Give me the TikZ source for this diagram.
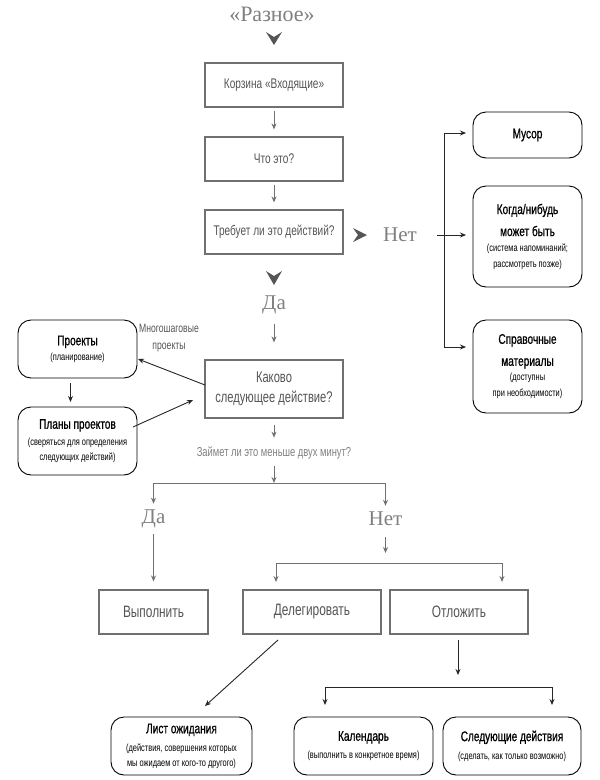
\documentclass[tikz,border=0pt]{standalone}
\usepackage{fontspec}
\setmainfont{Liberation Serif}
\newfontfamily\nar[FakeStretch=0.72]{Liberation Sans}
\newfontfamily\narb[FakeStretch=0.72,FakeBold=0.8]{Liberation Sans}
\usetikzlibrary{arrows.meta,calc}
\definecolor{boxgray}{HTML}{707070}
\definecolor{txtgray}{HTML}{555555}
\definecolor{sergray}{HTML}{808080}
\definecolor{chevgray}{HTML}{555555}
\tikzset{
  rbox/.style={draw=boxgray, line width=1.2pt, rectangle, inner sep=2pt, align=center,
    text=txtgray, font=\nar\fontsize{14}{16}\selectfont},
  obox/.style={draw=black, line width=0.9pt, rounded corners=13pt, inner sep=2pt, align=center, text=black,
    font=\nar\fontsize{10.3}{15}\selectfont},
  lbl/.style={text=sergray, font=\fontsize{21}{23}\selectfont, inner sep=1pt},
  garr/.style={draw=boxgray, line width=1pt, -{Stealth[length=6pt,width=5pt]}},
  gline/.style={draw=boxgray, line width=1pt},
  barr/.style={draw=black!85, line width=0.9pt, -{Stealth[length=6pt,width=5pt]}},
  bline/.style={draw=black!85, line width=0.9pt},
  chev/.style={fill=chevgray, draw=none},
}
\newcommand{\ttl}[1]{{\narb\fontsize{14}{16}\selectfont #1}}
\newcommand{\sbt}[1]{{\nar\fontsize{10.3}{12.3}\selectfont #1}}
\begin{document}
\begin{tikzpicture}[x=1pt,y=-1pt]
\useasboundingbox[fill=white] (0,0) rectangle (600,780);

% labels
\node[lbl, font=\fontsize{22}{24}\selectfont] (raz) at (272,14) {«Разное»};
\node[lbl] (net1) at (400,235) {Нет};
\node[lbl] (da1) at (274,305) {Да};
\node[lbl] (da2) at (153.5,519) {Да};
\node[lbl] (net2) at (385.5,519) {Нет};

% chevrons
\fill[chev] (266,32) -- (274,37) -- (282,32) -- (274,45) -- cycle;
\fill[chev] (353,228) -- (358,235) -- (353,242) -- (367,235) -- cycle;
\fill[chev] (266,271) -- (274,276) -- (282,271) -- (274,285) -- cycle;

% main boxes
\node[rbox, minimum width=138, minimum height=44] (inbox) at (274,85) {Корзина «Входящие»};
\node[rbox, minimum width=138, minimum height=44] (what) at (274,159) {Что это?};
\node[rbox, minimum width=138, minimum height=44] (act) at (274,232) {Требует ли это действий?};
\node[rbox, minimum width=138, minimum height=58, font=\nar\fontsize{15.5}{20}\selectfont] (next) at (274,389) {Каково\\следующее действие?};
\node[text=sergray, font=\nar\fontsize{13}{15}\selectfont, inner sep=1pt] (two) at (274,453) {Займет ли это меньше двух минут?};
\node[rbox, minimum width=109, minimum height=44, font=\nar\fontsize{16.5}{19}\selectfont] (doit) at (153.5,612) {Выполнить};
\node[rbox, minimum width=138, minimum height=44, font=\nar\fontsize{16.5}{19}\selectfont] (deleg) at (312,612) {Делегировать};
\node[rbox, minimum width=138, minimum height=44, font=\nar\fontsize{16.5}{19}\selectfont] (defer) at (459,612) {Отложить};

% rounded boxes right
\node[obox, minimum width=109, minimum height=46] (trash) at (527.5,135) {\ttl{Мусор}};
\node[obox, minimum width=109, minimum height=101] (some) at (527.5,236.5) {\ttl{Когда/нибудь}\\[7pt]\ttl{может быть}\\\sbt{(система напоминаний;}\\[1pt]\sbt{рассмотреть позже)}};
\node[obox, minimum width=109, minimum height=93] (refer) at (527.5,366.5) {\ttl{Справочные}\\[7pt]\ttl{материалы}\\\sbt{(доступны}\\[1pt]\sbt{при необходимости)}};

% rounded boxes left
\node[obox, minimum width=119, minimum height=58] (proj) at (77.5,349) {\ttl{Проекты}\\\sbt{(планирование)}};
\node[obox, minimum width=119, minimum height=68] (plans) at (77.5,441) {\ttl{Планы проектов}\\[2pt]\sbt{(сверяться для определения}\\\sbt{следующих действий)}};
\node[text=txtgray, font=\nar\fontsize{12}{17}\selectfont, align=center, inner sep=1pt] (multi) at (169,338) {Многошаговые\\проекты};

% rounded boxes bottom
\node[obox, minimum width=141, minimum height=58] (wait) at (181.5,746) {\ttl{Лист ожидания}\\[3pt]\sbt{(действия, совершения которых}\\\sbt{мы ожидаем от кого-то другого)}};
\node[obox, minimum width=139, minimum height=58] (cal) at (363.5,746) {\ttl{Календарь}\\[3pt]\sbt{(выполнить в конкретное время)}};
\node[obox, minimum width=138, minimum height=58] (nexta) at (512,746) {\ttl{Следующие действия}\\[3pt]\sbt{(сделать, как только возможно)}};

% main flow arrows
\draw[garr, shorten <=3pt, shorten >=7pt] (inbox) -- (what);
\draw[garr, shorten <=3pt, shorten >=7pt] (what) -- (act);
\draw[garr, shorten <=9pt, shorten >=17pt] (da1) -- (next);
\draw[garr, shorten <=6pt, shorten >=8pt] (next) -- (two);

% fork 1
\coordinate (f1) at (274,483);
\coordinate (f1l) at (153.5,483);
\coordinate (f1r) at (385.5,483);
\draw[garr, shorten <=6pt] (two) -- (f1);
\draw[gline] (f1l) -- (f1r);
\draw[garr, shorten >=5pt] (f1l) -- (da2);
\draw[garr, shorten >=5pt] (f1r) -- (net2);
\draw[garr, shorten <=5pt, shorten >=8pt] (da2) -- (doit);

% fork 2
\coordinate (f2) at (385.5,563);
\coordinate (f2l) at (276,563);
\coordinate (f2r) at (502,563);
\coordinate (f2lt) at (276,582);
\coordinate (f2rt) at (502,582);
\draw[garr, shorten <=10pt, shorten >=10pt] (net2) -- (f2);
\draw[gline] (f2l) -- (f2r);
\draw[garr] (f2l) -- (f2lt);
\draw[garr] (f2r) -- (f2rt);

% delegate -> waiting
\coordinate (dstart) at (278,640);
\coordinate (dend) at (205,706);
\draw[barr] (dstart) -- (dend);

% defer -> fork 3
\coordinate (f3) at (458,675);
\coordinate (f3s) at (458,640);
\coordinate (f3l) at (325,687);
\coordinate (f3r) at (552,687);
\coordinate (f3lt) at (325,705);
\coordinate (f3rt) at (552,705);
\draw[barr] (f3s) -- (f3);
\draw[bline] (f3l) -- (f3r);
\draw[barr] (f3l) -- (f3lt);
\draw[barr] (f3r) -- (f3rt);

% right bracket
\coordinate (bt) at (444,133);
\coordinate (bb) at (444,347);
\coordinate (bm) at (437,235);
\coordinate (btt) at (466,133);
\coordinate (bmt) at (466,235);
\coordinate (bbt) at (466,347);
\draw[bline] (bt) -- (bb);
\draw[barr] (bt) -- (btt);
\draw[barr] (bm) -- (bmt);
\draw[barr] (bb) -- (bbt);

% left arrows
\coordinate (l1s) at (205,385);
\coordinate (l1e) at (138,359);
\coordinate (l2s) at (133,427);
\coordinate (l2e) at (193,400);
\coordinate (pps) at (70.5,383);
\coordinate (ppe) at (70.5,402);
\draw[barr] (l1s) -- (l1e);
\draw[barr] (l2s) -- (l2e);
\draw[barr] (pps) -- (ppe);
\end{tikzpicture}
\end{document}
